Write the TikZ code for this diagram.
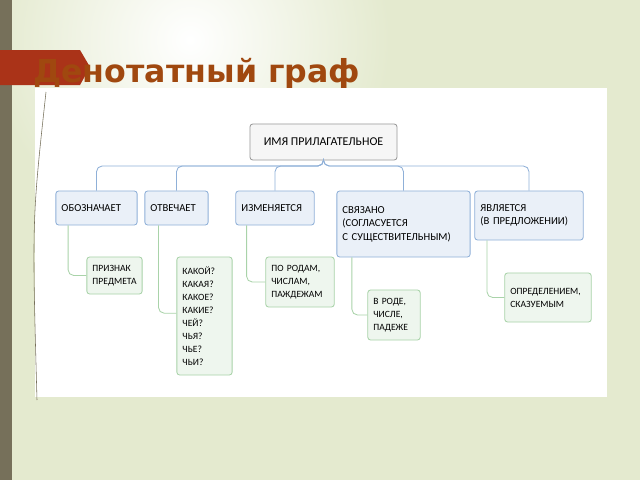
\documentclass[tikz,border=0pt]{standalone}
\usepackage{fontspec}
\setmainfont{Carlito}
\newfontfamily\titlefont{DejaVu Sans}
\definecolor{slidebg}{HTML}{E4EACF}
\definecolor{sidebar}{HTML}{76705A}
\definecolor{tabred}{HTML}{AA3318}
\definecolor{titlebrown}{HTML}{A0480F}
\definecolor{bluefill}{HTML}{EAF0F8}
\definecolor{blueline}{HTML}{8FB0D8}
\definecolor{greenfill}{HTML}{EEF6EE}
\definecolor{greenline}{HTML}{A9D3A9}
\begin{document}
\begin{tikzpicture}[x=0.025cm, y=-0.025cm,
        rootbox/.style={rectangle, draw=gray!80, fill=gray!7, rounded corners=2pt, line width=0.6pt, font=\fontsize{8.5}{10}\selectfont},
        mainbox/.style={rectangle, draw=blueline, fill=bluefill, rounded corners=2pt, line width=0.6pt, align=left, inner sep=4pt, font=\fontsize{7.6}{9.6}\selectfont},
        subbox/.style={rectangle, draw=greenline, fill=greenfill, rounded corners=2pt, line width=0.6pt, align=left, inner sep=4pt, font=\fontsize{6.8}{9.3}\selectfont},
        busline/.style={draw=blueline, line width=0.6pt, rounded corners=4pt},
        leafline/.style={draw=greenline, line width=0.6pt, rounded corners=4pt}
    ]
        % Slide background
        \useasboundingbox (0,0) rectangle (640,480);
        \fill[slidebg] (0,0) rectangle (640,480);
        \shade[inner color=white, outer color=slidebg] (190,40) circle (200);
        \fill[sidebar] (0,0) rectangle (12,480);
        \fill[tabred] (0,50) -- (80,50) -- (90,67) -- (80,85) -- (0,85) -- cycle;
        \node[anchor=base west, text=titlebrown, font=\titlefont\bfseries\fontsize{22.5}{26}\selectfont, inner sep=0pt] (title) at (33,82) {Денотатный граф};
        \fill[white] (35,88) rectangle (607,397);
        \draw[sidebar, thin] (46,92) .. controls (32,220) .. (37,400);

        % Root and first level
        \node[rootbox, minimum width=3.675cm, minimum height=0.9cm] (root) at (323.5,142) {ИМЯ ПРИЛАГАТЕЛЬНОЕ};
        \node[mainbox, minimum width=2.025cm, minimum height=0.85cm, text width=1.75cm] (denote) at (96.5,208) {ОБОЗНАЧАЕТ};
        \node[mainbox, minimum width=1.575cm, minimum height=0.85cm, text width=1.3cm] (answer) at (176.5,208) {ОТВЕЧАЕТ};
        \node[mainbox, minimum width=1.95cm, minimum height=0.85cm, text width=1.68cm] (change) at (275,208) {ИЗМЕНЯЕТСЯ};
        \node[mainbox, minimum width=3.325cm, minimum height=1.65cm, text width=3.05cm] (agree) at (403.5,224) {СВЯЗАНО\\(СОГЛАСУЕТСЯ\\С СУЩЕСТВИТЕЛЬНЫМ)};
        \node[mainbox, minimum width=2.7cm, minimum height=1.225cm, text width=2.43cm] (role) at (529,215.5) {ЯВЛЯЕТСЯ\\(В ПРЕДЛОЖЕНИИ)};

        % Second level
        \node[subbox, minimum width=1.375cm, minimum height=0.925cm, text width=1.1cm] (feature) at (114.5,275.5) {ПРИЗНАК\\ПРЕДМЕТА};
        \node[subbox, minimum width=1.375cm, minimum height=2.95cm, text width=1.1cm] (questions) at (204.5,316) {КАКОЙ?\\КАКАЯ?\\КАКОЕ?\\КАКИЕ?\\ЧЕЙ?\\ЧЬЯ?\\ЧЬЕ?\\ЧЬИ?};
        \node[subbox, minimum width=1.7cm, minimum height=1.25cm, text width=1.43cm] (forms) at (300,282) {ПО РОДАМ,\\ЧИСЛАМ,\\ПАЖДЕЖАМ};
        \node[subbox, minimum width=1.3cm, minimum height=1.25cm, text width=1.03cm] (inform) at (394,315) {В РОДЕ,\\ЧИСЛЕ,\\ПАДЕЖЕ};
        \node[subbox, minimum width=2.15cm, minimum height=1.225cm, text width=1.88cm] (member) at (548,297.5) {ОПРЕДЕЛЕНИЕМ,\\СКАЗУЕМЫМ};

        % Tree lines
        \coordinate (bus) at (323.5,166);
        \foreach \child in {denote, answer, change, agree, role}
            \draw[busline] (root.south) -- (bus) -| (\child.north);
        \draw[leafline] ([xshift=9]denote.south west) |- (feature.west);
        \draw[leafline] ([xshift=10]answer.south west) |- ([yshift=2]questions.west);
        \draw[leafline] ([xshift=8]change.south west) |- (forms.west);
        \draw[leafline] ([xshift=11]agree.south west) |- (inform.west);
        \draw[leafline] ([xshift=9]role.south west) |- (member.west);
    \end{tikzpicture}
\end{document}
